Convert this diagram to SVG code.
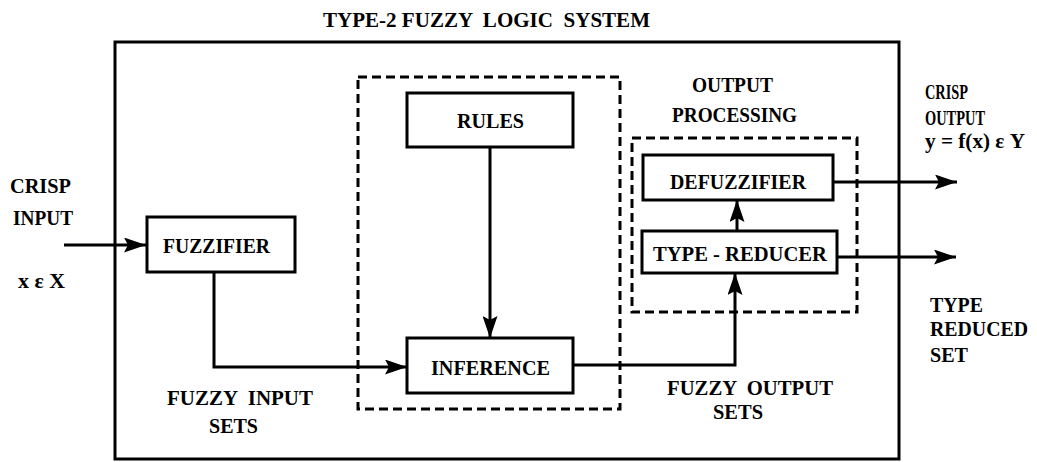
<svg xmlns="http://www.w3.org/2000/svg" width="1037" height="462" viewBox="0 0 1037 462">
<defs>
<style>
text{font-family:"Liberation Serif","Times New Roman",serif;font-weight:bold;font-size:22px;fill:#000;white-space:pre}
.sm{font-size:20px}
.box{fill:#fff;stroke:#000;stroke-width:3}
.dash{fill:none;stroke:#000;stroke-width:3;stroke-dasharray:9 5}
.ln{fill:none;stroke:#000;stroke-width:3}
</style>
<marker id="ah" markerWidth="22" markerHeight="15" refX="22" refY="7.5" orient="auto" markerUnits="userSpaceOnUse">
<path d="M0,0 L22,7.5 L0,15 L4,7.5 Z" fill="#000"/>
</marker>
</defs>
<rect width="1037" height="462" fill="#fff"/>
<text x="323" y="27" textLength="327" lengthAdjust="spacingAndGlyphs" xml:space="preserve">TYPE-2 FUZZY  LOGIC  SYSTEM</text>
<g id="system"><rect class="ln" x="115" y="42" width="784" height="417"/></g>
<g id="inference-group"><rect class="dash" x="358" y="77" width="262" height="332"/></g>
<g id="output-processing"><rect class="dash" x="632" y="138" width="225" height="174"/>
<text x="692" y="92" textLength="81" lengthAdjust="spacingAndGlyphs">OUTPUT</text>
<text x="672" y="122" textLength="125" lengthAdjust="spacingAndGlyphs">PROCESSING</text></g>
<g id="connectors">
<path class="ln" d="M64,245 H146" marker-end="url(#ah)"/>
<path class="ln" d="M214,272 V367 H407" marker-end="url(#ah)"/>
<path class="ln" d="M490,147 V338" marker-end="url(#ah)"/>
<path class="ln" d="M573,365 H735 V273" marker-end="url(#ah)"/>
<path class="ln" d="M737,231 V200" marker-end="url(#ah)"/>
<path class="ln" d="M833,182 H957" marker-end="url(#ah)"/>
<path class="ln" d="M837,257 H956" marker-end="url(#ah)"/>
</g>
<g id="fuzzifier"><rect class="box" x="147" y="217" width="148" height="55"/>
<text x="163" y="253" textLength="107" lengthAdjust="spacingAndGlyphs">FUZZIFIER</text></g>
<g id="rules"><rect class="box" x="407" y="93" width="166" height="54"/>
<text x="457" y="128" textLength="67" lengthAdjust="spacingAndGlyphs">RULES</text></g>
<g id="inference"><rect class="box" x="407" y="338" width="166" height="55"/>
<text x="431" y="375" textLength="119" lengthAdjust="spacingAndGlyphs">INFERENCE</text></g>
<g id="defuzzifier"><rect class="box" x="643" y="155" width="190" height="45"/>
<text x="670" y="189" textLength="136" lengthAdjust="spacingAndGlyphs">DEFUZZIFIER</text></g>
<g id="type-reducer"><rect class="box" x="642" y="231" width="195" height="42"/>
<text x="653" y="261" textLength="174" lengthAdjust="spacingAndGlyphs">TYPE - REDUCER</text></g>
<g id="labels">
<text x="10" y="193" textLength="61" lengthAdjust="spacingAndGlyphs">CRISP</text>
<text x="13" y="225" textLength="60" lengthAdjust="spacingAndGlyphs">INPUT</text>
<text x="18" y="288" textLength="47" lengthAdjust="spacingAndGlyphs">x ε X</text>
<text x="167" y="405" textLength="146" lengthAdjust="spacingAndGlyphs" xml:space="preserve">FUZZY  INPUT</text>
<text x="209" y="433" textLength="49" lengthAdjust="spacingAndGlyphs">SETS</text>
<text x="667" y="395" textLength="166" lengthAdjust="spacingAndGlyphs" xml:space="preserve">FUZZY  OUTPUT</text>
<text x="713" y="419" textLength="50" lengthAdjust="spacingAndGlyphs">SETS</text>
<text class="sm" x="925" y="99" textLength="43" lengthAdjust="spacingAndGlyphs">CRISP</text>
<text class="sm" x="925" y="125" textLength="60" lengthAdjust="spacingAndGlyphs">OUTPUT</text>
<text class="sm" x="925" y="148" textLength="100" lengthAdjust="spacingAndGlyphs">y = f(x) ε Y</text>
<text class="sm" x="930" y="312" textLength="53" lengthAdjust="spacingAndGlyphs">TYPE</text>
<text class="sm" x="930" y="336" textLength="98" lengthAdjust="spacingAndGlyphs">REDUCED</text>
<text class="sm" x="930" y="362" textLength="38" lengthAdjust="spacingAndGlyphs">SET</text>
</g>
</svg>
